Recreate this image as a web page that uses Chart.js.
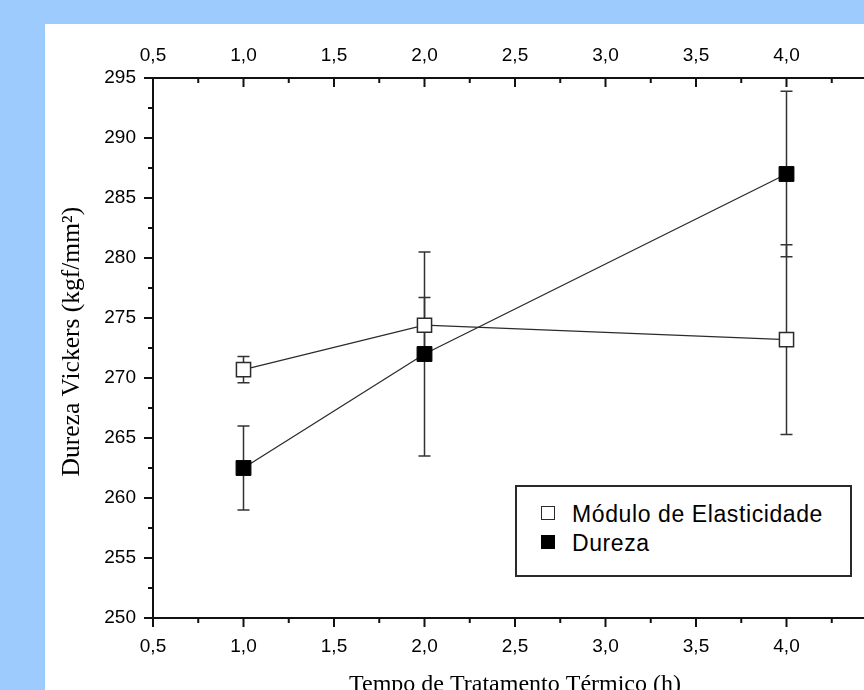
<!DOCTYPE html>
<html>
<head>
<meta charset="utf-8">
<script src="https://cdn.jsdelivr.net/npm/chart.js@4.4.0/dist/chart.umd.min.js"></script>
<style>
  html, body { margin: 0; padding: 0; width: 864px; height: 690px; overflow: hidden; background: #9dcbfe; }
  #panel { position: absolute; left: 45px; top: 24px; width: 900px; height: 690px; background: #fff; }
  #chart { position: absolute; left: 0; top: 0; }
  #legend {
    position: absolute; left: 470px; top: 461px; width: 333px; height: 88px;
    border: 2px solid #2a2a2a; background: #fff;
    font-family: "Liberation Sans", Arial, sans-serif; font-size: 23px; letter-spacing: 0.6px; color: #000;
  }
  #legend .row { position: absolute; left: 0; height: 30px; line-height: 30px; white-space: nowrap; }
  #legend .swatch { position: absolute; left: 24px; top: 7px; width: 14px; height: 14px; box-sizing: border-box; border: 1.5px solid #222; }
  #legend .text { position: absolute; left: 55px; top: 0; }
</style>
</head>
<body>
<div id="panel">
  <canvas id="chart" width="900" height="690"></canvas>
  <div id="legend"></div>
</div>
<script>
// dados
const tempos = [1, 2, 4];
const moduloValores = [270.7, 274.4, 273.2];
const moduloErros = [1.1, 2.3, 7.9];
const durezaValores = [262.5, 272.0, 287.0];
const durezaErros = [3.5, 8.5, 6.9];

const xTicks = [0.5, 1.0, 1.5, 2.0, 2.5, 3.0, 3.5, 4.0, 4.5];
const yTicks = [250, 255, 260, 265, 270, 275, 280, 285, 290, 295];

const fmt = v => Number(v).toFixed(1).replace('.', ',');
const tickFont = { family: 'Liberation Sans', size: 19 };

/*=========== error bars ===========*/
const errorBars = {
  id: 'errorBars',
  beforeDatasetsDraw(chart) {
    const { ctx, scales: { x, y } } = chart;
    ctx.save();
    ctx.strokeStyle = '#333';
    ctx.lineWidth = 1.5;
    chart.data.datasets.forEach(ds => {
      ds.data.forEach((p, i) => {
        const e = ds.errors[i];
        const px = x.getPixelForValue(p.x);
        const top = y.getPixelForValue(p.y + e);
        const bot = y.getPixelForValue(p.y - e);
        ctx.beginPath();
        ctx.moveTo(px, top); ctx.lineTo(px, bot);
        ctx.moveTo(px - 6, top); ctx.lineTo(px + 6, top);
        ctx.moveTo(px - 6, bot); ctx.lineTo(px + 6, bot);
        ctx.stroke();
      });
    });
    ctx.restore();
  }
};

/*=========== major / minor tick marks ===========*/
const axisTicks = {
  id: 'axisTicks',
  afterDraw(chart) {
    const { ctx, chartArea: a, scales } = chart;
    ctx.save();
    ctx.strokeStyle = '#111';
    ctx.lineWidth = 2;
    const mark = (x1, y1, x2, y2) => { ctx.beginPath(); ctx.moveTo(x1, y1); ctx.lineTo(x2, y2); ctx.stroke(); };
    xTicks.forEach((v, i) => {
      const px = scales.x.getPixelForValue(v);
      mark(px, a.bottom, px, a.bottom + 9);
      mark(px, a.top, px, a.top + 9);
      if (i < xTicks.length - 1) {
        const m = scales.x.getPixelForValue((v + xTicks[i + 1]) / 2);
        mark(m, a.bottom, m, a.bottom + 5);
        mark(m, a.top, m, a.top + 5);
      }
    });
    yTicks.forEach((v, i) => {
      const py = scales.y.getPixelForValue(v);
      mark(a.left - 9, py, a.left, py);
      if (i < yTicks.length - 1) {
        const m = scales.y.getPixelForValue((v + yTicks[i + 1]) / 2);
        mark(a.left - 5, m, a.left, m);
      }
    });
    ctx.restore();
  }
};

const xAxis = (position, fitHeight, pad) => ({
  type: 'linear',
  position: position,
  min: xTicks[0],
  max: xTicks[xTicks.length - 1],
  afterBuildTicks: s => { s.ticks = xTicks.map(v => ({ value: v })); },
  afterFit: s => { s.height = fitHeight; },
  grid: { display: false, drawTicks: false },
  border: { color: '#111', width: 2 },
  ticks: { padding: pad, color: '#000', font: tickFont, callback: fmt }
});

const scaleX = xAxis('bottom', 96, 17);
scaleX.title = {
  display: true,
  text: 'Tempo de Tratamento Térmico (h)',
  color: '#000',
  font: { family: 'Liberation Serif', size: 24 },
  padding: { top: 0, bottom: 15 }
};

const chart = new Chart(document.getElementById('chart'), {
  type: 'scatter',
  data: {
    datasets: [{
      label: 'Módulo de Elasticidade',
      data: tempos.map((t, i) => ({ x: t, y: moduloValores[i] })),
      errors: moduloErros,
      showLine: true,
      borderColor: '#2b2b2b',
      borderWidth: 1.3,
      pointStyle: 'rect',
      pointRadius: 10,
      pointBackgroundColor: '#fff',
      pointBorderColor: '#2b2b2b',
      pointBorderWidth: 1.5
    }, {
      label: 'Dureza',
      data: tempos.map((t, i) => ({ x: t, y: durezaValores[i] })),
      errors: durezaErros,
      showLine: true,
      borderColor: '#2b2b2b',
      borderWidth: 1.3,
      pointStyle: 'rect',
      pointRadius: 10.5,
      pointBackgroundColor: '#000',
      pointBorderColor: '#000',
      pointBorderWidth: 1
    }]
  },
  options: {
    responsive: false,
    animation: false,
    devicePixelRatio: 1,
    layout: { padding: { right: 68 } },
    plugins: { legend: { display: false }, tooltip: { enabled: false } },
    scales: {
      x: scaleX,
      x2: xAxis('top', 54, 11),
      y: {
        min: yTicks[0],
        max: yTicks[yTicks.length - 1],
        afterBuildTicks: s => { s.ticks = yTicks.map(v => ({ value: v })); },
        afterFit: s => { s.width = 108; },
        grid: { display: false, drawTicks: false },
        border: { color: '#111', width: 2 },
        ticks: { padding: 17, color: '#000', font: tickFont },
        title: {
          display: true,
          text: '\u2002Dureza Vickers (kgf/mm²)',
          color: '#000',
          font: { family: 'Liberation Serif', size: 25.5 },
          padding: { top: 12, bottom: 0 }
        }
      }
    }
  },
  plugins: [errorBars, axisTicks]
});

// legenda em HTML a partir dos datasets
const legend = document.getElementById('legend');
chart.data.datasets.forEach((ds, i) => {
  const row = document.createElement('div');
  row.className = 'row';
  row.style.top = (12 + i * 29) + 'px';
  const sw = document.createElement('span');
  sw.className = 'swatch';
  sw.style.background = ds.pointBackgroundColor;
  sw.style.borderColor = ds.pointBorderColor;
  const tx = document.createElement('span');
  tx.className = 'text';
  tx.textContent = ds.label;
  row.appendChild(sw);
  row.appendChild(tx);
  legend.appendChild(row);
});
</script>
</body>
</html>
